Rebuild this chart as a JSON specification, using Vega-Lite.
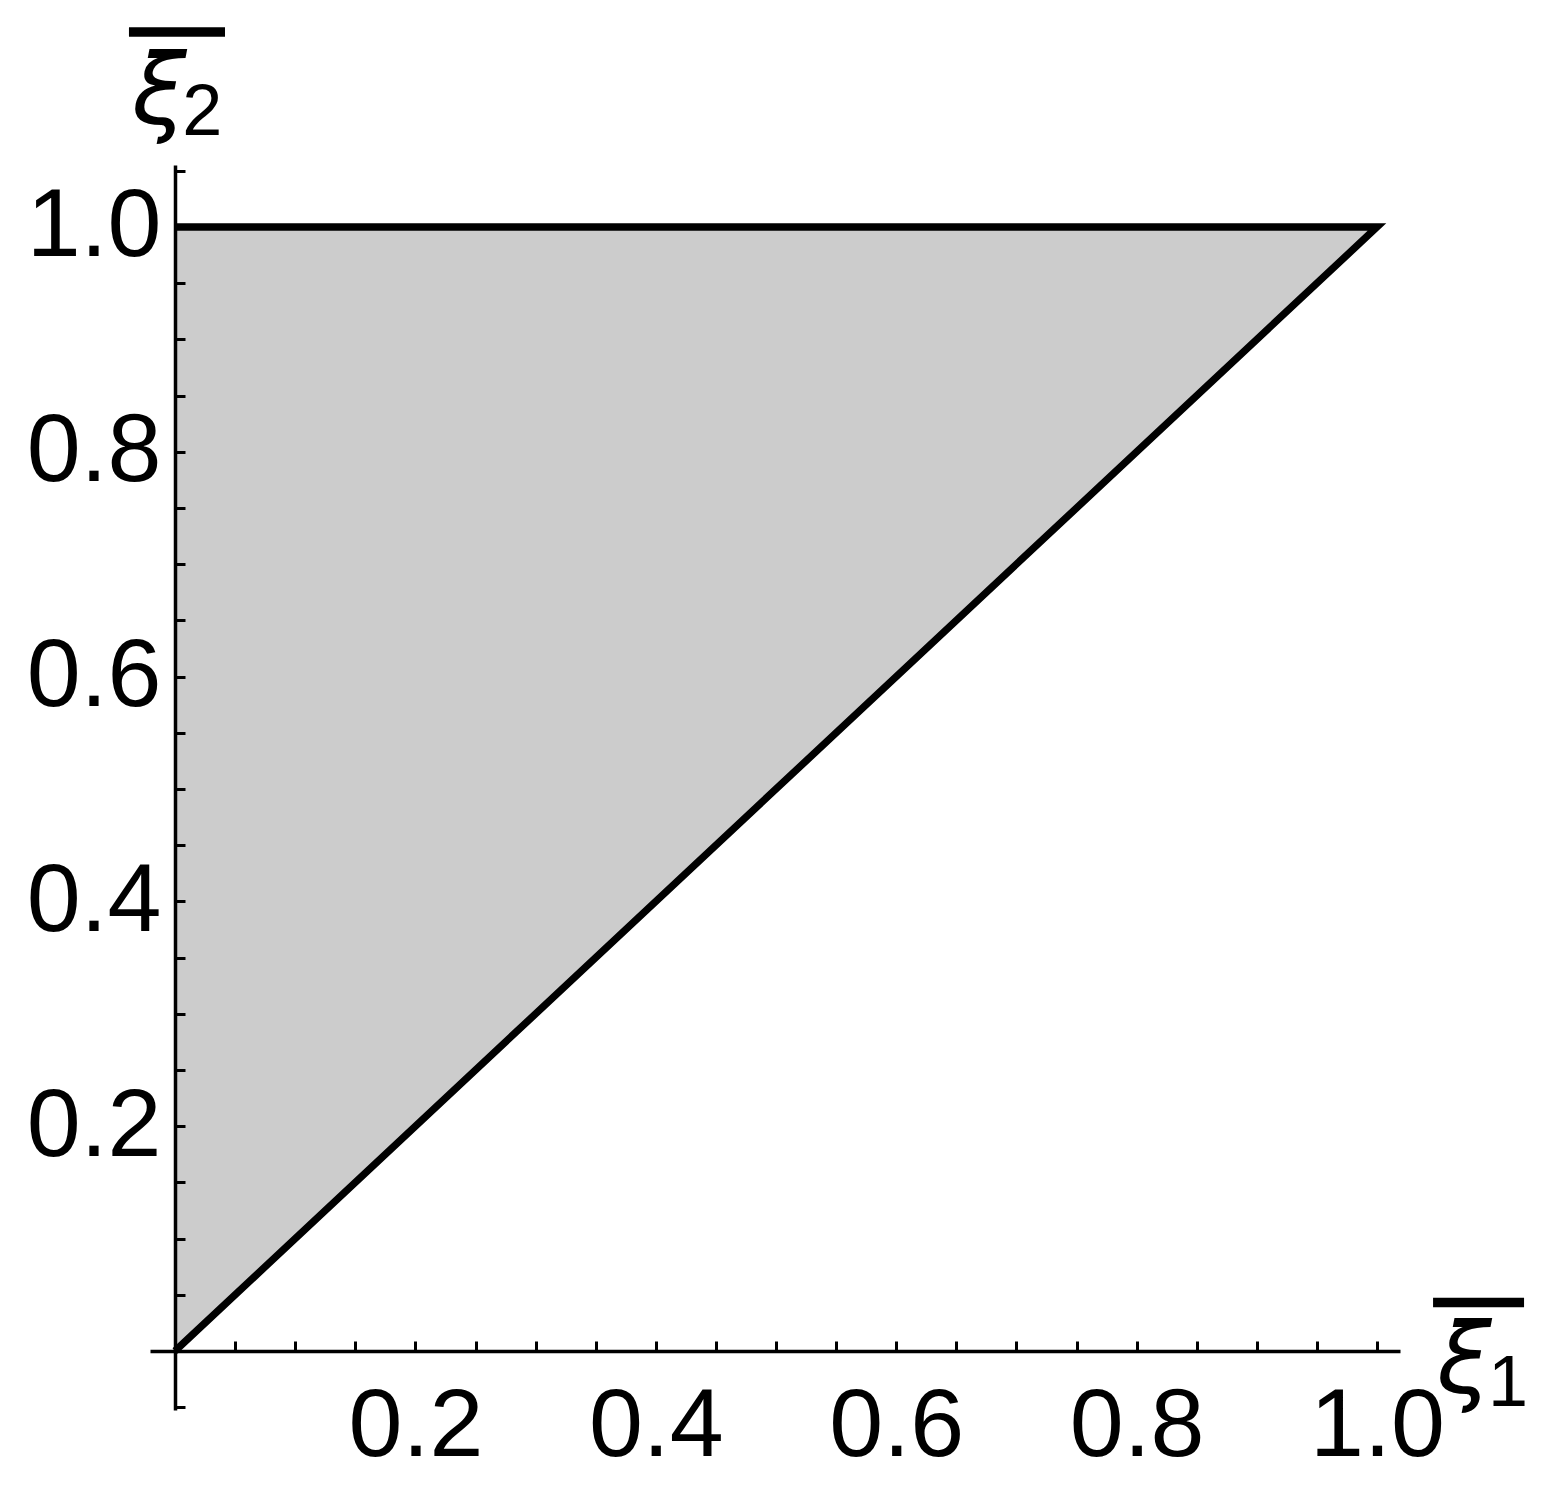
{
  "$schema": "https://vega.github.io/schema/vega-lite/v6.json",
  "width": 1250,
  "height": 1245,
  "autosize": "none",
  "padding": {"left": 150, "top": 165, "right": 153, "bottom": 75},
  "background": "white",
  "config": {"view": {"stroke": null}, "font": "Liberation Sans"},
  "datasets": {
    "region": [{"x": 0, "y": 0, "upper": 1}, {"x": 1, "y": 1, "upper": 1}],
    "boundary": [{"order": 0, "x": 0, "y": 0}, {"order": 1, "x": 1, "y": 1}, {"order": 2, "x": 0, "y": 1}],
    "majorx": [{"x": 0.2}, {"x": 0.4}, {"x": 0.6}, {"x": 0.8}, {"x": 1.0}],
    "majory": [{"y": 0.2}, {"y": 0.4}, {"y": 0.6}, {"y": 0.8}, {"y": 1.0}],
    "symbols": [{"sym": "ξ", "x": -0.0358, "y": 1.0916}, {"sym": "ξ", "x": 1.0499, "y": -0.0374}],
    "subs": [{"t": "2", "x": 0.006, "y": 1.0819}, {"t": "1", "x": 1.0924, "y": -0.0489}],
    "bars": [{"x": -0.0383, "x2": 0.0416, "y": 1.1735}, {"x": 1.0466, "x2": 1.1223, "y": 0.0431}]
  },
  "encoding": {
    "x": {
      "field": "x", "type": "quantitative",
      "scale": {"domain": [-0.0208, 1.0191], "nice": false, "zero": false},
      "axis": {
        "orient": "bottom", "offset": -59,
        "values": [0.05, 0.1, 0.15, 0.2, 0.25, 0.3, 0.35, 0.4, 0.45, 0.5, 0.55, 0.6, 0.65, 0.7, 0.75, 0.8, 0.85, 0.9, 0.95, 1.0],
        "domainColor": "black", "domainWidth": 3.5,
        "tickColor": "black", "tickWidth": 3, "tickSize": -10,
        "labelExpr": "abs(datum.value*5 - round(datum.value*5)) < 0.001 && datum.value > 0.01 ? format(datum.value, '.1f') : ''",
        "labelFont": "Liberation Sans", "labelFontSize": 97, "labelColor": "black",
        "labelPadding": 37, "labelOverlap": false, "labelFlush": false, "labelBound": false,
        "grid": false, "title": null, "zindex": 1
      }
    },
    "y": {
      "field": "y", "type": "quantitative",
      "scale": {"domain": [-0.05249, 1.05516], "nice": false, "zero": false},
      "axis": {
        "orient": "left", "offset": -25,
        "values": [-0.05, 0.05, 0.1, 0.15, 0.2, 0.25, 0.3, 0.35, 0.4, 0.45, 0.5, 0.55, 0.6, 0.65, 0.7, 0.75, 0.8, 0.85, 0.9, 0.95, 1.0, 1.05],
        "domainColor": "black", "domainWidth": 3.5,
        "tickColor": "black", "tickWidth": 3, "tickSize": -10,
        "labelExpr": "abs(datum.value*5 - round(datum.value*5)) < 0.001 && datum.value > 0.01 ? format(datum.value, '.1f') : ''",
        "labelFont": "Liberation Sans", "labelFontSize": 97, "labelColor": "black",
        "labelPadding": 24, "labelOverlap": false, "labelFlush": false, "labelBound": false,
        "grid": false, "title": null, "zindex": 1
      }
    }
  },
  "layer": [
    {
      "data": {"name": "region"},
      "mark": {"type": "area", "color": "#cccccc", "opacity": 1},
      "encoding": {"y2": {"field": "upper"}}
    },
    {
      "data": {"name": "boundary"},
      "mark": {"type": "line", "color": "black", "strokeWidth": 7.3, "strokeJoin": "miter", "strokeCap": "butt"},
      "encoding": {"order": {"field": "order"}}
    },
    {
      "data": {"name": "majorx"},
      "mark": {"type": "tick", "orient": "vertical", "size": 18, "thickness": 3, "color": "black", "yOffset": -9, "opacity": 1},
      "encoding": {"y": {"datum": 0, "type": "quantitative"}}
    },
    {
      "data": {"name": "majory"},
      "mark": {"type": "tick", "orient": "horizontal", "size": 17, "thickness": 3, "color": "black", "xOffset": 8.5, "opacity": 1},
      "encoding": {"x": {"datum": 0, "type": "quantitative"}}
    },
    {
      "data": {"name": "symbols"},
      "mark": {"type": "text", "font": "DejaVu Sans", "fontSize": 98, "fontStyle": "italic", "align": "left", "baseline": "alphabetic", "color": "black"},
      "encoding": {"text": {"field": "sym"}}
    },
    {
      "data": {"name": "subs"},
      "mark": {"type": "text", "font": "Liberation Sans", "fontSize": 72, "align": "left", "baseline": "alphabetic", "color": "black"},
      "encoding": {"text": {"field": "t"}}
    },
    {
      "data": {"name": "bars"},
      "mark": {"type": "rule", "color": "black", "strokeWidth": 9.5, "strokeCap": "butt"},
      "encoding": {"x2": {"field": "x2"}}
    }
  ]
}
